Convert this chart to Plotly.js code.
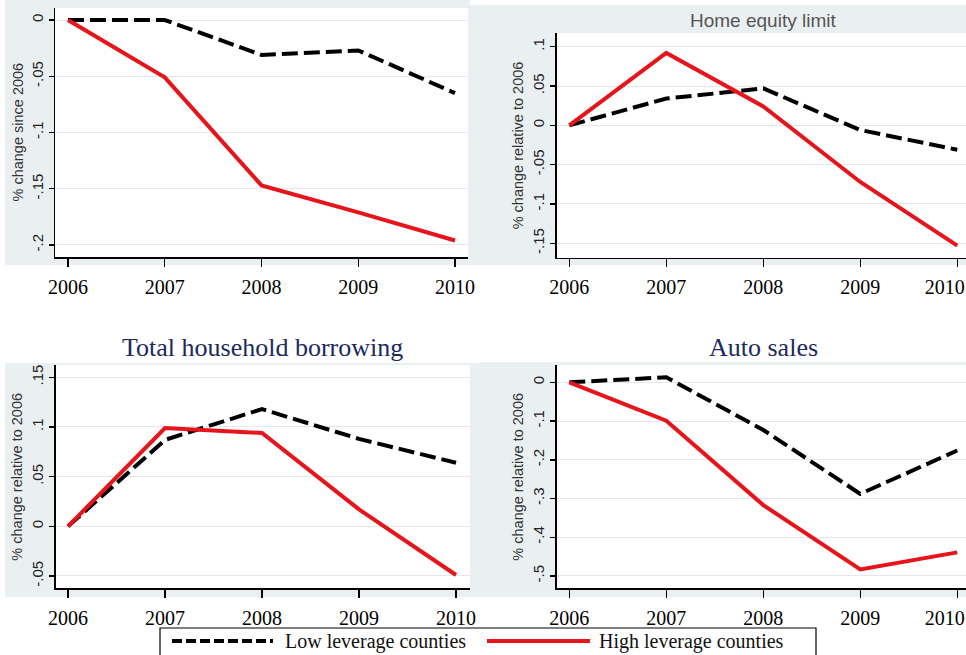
<!DOCTYPE html>
<html>
<head>
<meta charset="utf-8">
<script src="https://cdn.plot.ly/plotly-3.0.1.min.js"></script>
<style>html,body{margin:0;padding:0;background:#fff;}#chart{width:966px;height:655px;}</style>
</head>
<body>
<div id="chart"></div>
<script>
// ---- data ----
var years = [2006, 2007, 2008, 2009, 2010];
var yearLabels = ["2006", "2007", "2008", "2009", "2010"];
// right-hand panels: last label pushed left to stay inside the frame (as in the original)
var yearLabelsRight = ["2006", "2007", "2008", "2009", "2010\u00a0\u00a0\u00a0\u00a0\u00a0"];

var p1Low  = [0, 0, -0.031, -0.027, -0.065];
var p1High = [0, -0.051, -0.147, -0.171, -0.196];

var homeEqLow  = [0, 0.034, 0.047, -0.006, -0.031];
var homeEqHigh = [0, 0.092, 0.024, -0.072, -0.153];

var borrowLow  = [0, 0.087, 0.118, 0.088, 0.064];
var borrowHigh = [0, 0.099, 0.094, 0.017, -0.049];

var autoLow  = [0, 0.013, -0.123, -0.288, -0.176];
var autoHigh = [0, -0.099, -0.317, -0.483, -0.439];

var p1Ticks = [0, -0.05, -0.1, -0.15, -0.2];
var p1TickText = ["0", "-.05", "-.1", "-.15", "-.2"];
var p2Ticks = [0.1, 0.05, 0, -0.05, -0.1, -0.15];
var p2TickText = [".1", ".05", "0", "-.05", "-.1", "-.15"];
var p3Ticks = [0.15, 0.1, 0.05, 0, -0.05];
var p3TickText = [".15", ".1", ".05", "0", "-.05"];
var p4Ticks = [0, -0.1, -0.2, -0.3, -0.4, -0.5];
var p4TickText = ["0", "-.1", "-.2", "-.3", "-.4", "-.5"];

var panelTitles = ["", "Home equity limit", "Total household borrowing", "Auto sales"];
var yTitles = ["% change since 2006", "% change relative to 2006", "% change relative to 2006", "% change relative to 2006"];
var seriesNames = ["Low leverage counties", "High leverage counties"];

// ---- styling ----
var W = 966, H = 655;
function px(x) { return x / W; }
function py(y) { return 1 - y / H; }
var RED = "#e8141c";
var BLACK = "#000000";
var GRAYBG = "#eaf0f2";
var SERIF = "Liberation Serif, Times New Roman, serif";
var SANS = "Liberation Sans, Arial, sans-serif";

var lows = [p1Low, homeEqLow, borrowLow, autoLow];
var highs = [p1High, homeEqHigh, borrowHigh, autoHigh];
var axSuffix = ["", "2", "3", "4"];

var traces = [];
for (var i = 0; i < 4; i++) {
  traces.push({
    x: years, y: lows[i], type: "scatter", mode: "lines", name: seriesNames[0],
    xaxis: "x" + axSuffix[i], yaxis: "y" + axSuffix[i], showlegend: false,
    line: {color: BLACK, width: 4, dash: "16px,6px"}, hoverinfo: "skip"
  });
  traces.push({
    x: years, y: highs[i], type: "scatter", mode: "lines", name: seriesNames[1],
    xaxis: "x" + axSuffix[i], yaxis: "y" + axSuffix[i], showlegend: false,
    line: {color: RED, width: 4}, hoverinfo: "skip"
  });
}

function xax(domain, range, anchor, labels) {
  return {
    domain: domain, range: range, anchor: anchor,
    tickmode: "array", tickvals: years, ticktext: labels,
    ticks: "outside", ticklen: 8, tickwidth: 1.5, tickcolor: "#000",
    showline: true, linecolor: "#000", linewidth: 1.5,
    showgrid: false, zeroline: false, ticklabelstandoff: 3,
    ticklabeloverflow: "allow",
    tickfont: {family: SERIF, size: 20, color: "#000"},
    fixedrange: true
  };
}
function yax(domain, range, anchor, tv, tt) {
  return {
    domain: domain, range: range, anchor: anchor,
    tickmode: "array", tickvals: tv, ticktext: tt, tickangle: -90,
    ticks: "outside", ticklen: 5, tickwidth: 1.5, tickcolor: "#000",
    showline: true, linecolor: "#000", linewidth: 1.5,
    showgrid: true, gridcolor: "#e4e8ea", gridwidth: 1, zeroline: false,
    tickfont: {family: SANS, size: 15, color: "#222"},
    fixedrange: true
  };
}

var shapes = [
  {type: "rect", xref: "paper", yref: "paper", x0: px(5), x1: px(470), y0: py(265), y1: py(0), fillcolor: GRAYBG, line: {width: 0}, layer: "below"},
  {type: "rect", xref: "paper", yref: "paper", x0: px(468), x1: px(966), y0: py(265), y1: py(5), fillcolor: GRAYBG, line: {width: 0}, layer: "below"},
  {type: "rect", xref: "paper", yref: "paper", x0: px(5), x1: px(480), y0: py(597), y1: py(363), fillcolor: GRAYBG, line: {width: 0}, layer: "below"},
  {type: "rect", xref: "paper", yref: "paper", x0: px(480), x1: px(966), y0: py(597), y1: py(362), fillcolor: GRAYBG, line: {width: 0}, layer: "below"}
];
for (var k = 0; k < 4; k++) {
  shapes.push({type: "rect", xref: "x" + axSuffix[k] + " domain", yref: "y" + axSuffix[k] + " domain",
    x0: 0, x1: 1, y0: 0, y1: 1, fillcolor: "#ffffff", line: {width: 0}, layer: "below"});
}
shapes.push({type: "rect", xref: "paper", yref: "paper", x0: px(160), x1: px(816), y0: py(662), y1: py(628), fillcolor: "rgba(255,255,255,0)", line: {color: "#000", width: 1.2}});
shapes.push({type: "line", xref: "paper", yref: "paper", x0: px(172), x1: px(273), y0: py(641), y1: py(641), line: {color: BLACK, width: 4, dash: "10px,4px"}});
shapes.push({type: "line", xref: "paper", yref: "paper", x0: px(487), x1: px(590), y0: py(641), y1: py(641), line: {color: RED, width: 4}});

var annotations = [];
var yTitleX = [17, 518, 17, 518];
for (var j = 0; j < 4; j++) {
  annotations.push({
    text: yTitles[j], xref: "paper", yref: "y" + axSuffix[j] + " domain",
    x: px(yTitleX[j]), y: 0.5, xanchor: "center", yanchor: "middle", textangle: -90, showarrow: false,
    font: {family: SANS, size: 14.5, color: "#333"}
  });
}
annotations.push({text: panelTitles[1], xref: "paper", yref: "paper", x: px(763), y: py(20), xanchor: "center", yanchor: "middle", showarrow: false,
  font: {family: SANS, size: 19, color: "#555"}});
annotations.push({text: panelTitles[2], xref: "paper", yref: "paper", x: px(262.5), y: py(347), xanchor: "center", yanchor: "middle", showarrow: false,
  font: {family: SERIF, size: 26, color: "#1c2a5c"}});
annotations.push({text: panelTitles[3], xref: "paper", yref: "paper", x: px(763), y: py(347), xanchor: "center", yanchor: "middle", showarrow: false,
  font: {family: SERIF, size: 26, color: "#1c2a5c"}});
annotations.push({text: seriesNames[0], xref: "paper", yref: "paper", x: px(283), y: py(641), xanchor: "left", yanchor: "middle", showarrow: false,
  font: {family: SERIF, size: 20, color: "#111"}});
annotations.push({text: seriesNames[1], xref: "paper", yref: "paper", x: px(597), y: py(641), xanchor: "left", yanchor: "middle", showarrow: false,
  font: {family: SERIF, size: 20, color: "#111"}});

var layout = {
  width: W, height: H,
  margin: {l: 0, r: 0, t: 0, b: 0, pad: 0},
  paper_bgcolor: "#ffffff", plot_bgcolor: "rgba(0,0,0,0)",
  showlegend: false,
  xaxis:  xax([px(55), px(468)], [2005.866, 2010.134], "y", yearLabels),
  yaxis:  yax([py(257), py(8)], [-0.2107, 0.0107], "x", p1Ticks, p1TickText),
  xaxis2: xax([px(556.7), 1], [2005.87, 2010.09], "y2", yearLabelsRight),
  yaxis2: yax([py(257.7), py(33)], [-0.1683, 0.1174], "x2", p2Ticks, p2TickText),
  xaxis3: xax([px(55.7), px(470)], [2005.873, 2010.144], "y3", yearLabels),
  yaxis3: yax([py(588.3), py(365)], [-0.0624, 0.1624], "x3", p3Ticks, p3TickText),
  xaxis4: xax([px(556.7), 1], [2005.87, 2010.09], "y4", yearLabelsRight),
  yaxis4: yax([py(588.3), py(365)], [-0.5318, 0.0447], "x4", p4Ticks, p4TickText),
  shapes: shapes,
  annotations: annotations
};

Plotly.newPlot("chart", traces, layout, {staticPlot: true, displayModeBar: false});
</script>
</body>
</html>
